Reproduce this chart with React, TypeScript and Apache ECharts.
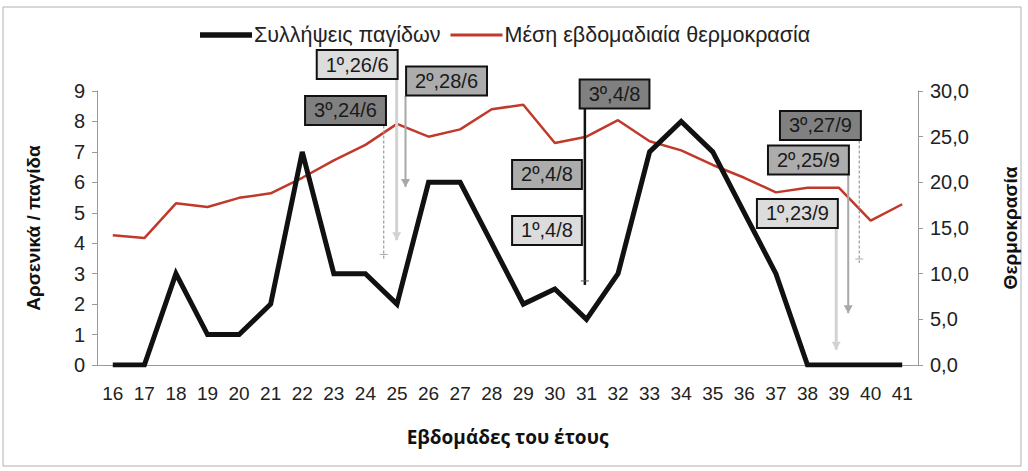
import React, { useEffect, useRef } from "react";
import * as echarts from "echarts";

const weeks = ["16","17","18","19","20","21","22","23","24","25","26","27","28","29","30","31","32","33","34","35","36","37","38","39","40","41"];
const catches = [0, 0, 3, 1, 1, 2, 7, 3, 3, 2, 6, 6, 4, 2, 2.5, 1.5, 3, 7, 8, 7, 5, 3, 0, 0, 0, 0];
const temperature = [14.2, 13.9, 17.7, 17.3, 18.3, 18.8, 20.5, 22.4, 24.1, 26.4, 25.0, 25.8, 28.0, 28.5, 24.3, 25.0, 26.8, 24.5, 23.5, 21.9, 20.5, 18.9, 19.4, 19.4, 15.8, 17.6];

const leftTicks = [0, 9, 1];
const rightTicks = [0, 30, 5];

// annotations (week position, left-axis value)
const annLabels = ["1º,26/6", "2º,28/6", "3º,24/6", "3º,4/8", "2º,4/8", "1º,4/8", "3º,27/9", "2º,25/9", "1º,23/9"];
const annRank = [1, 2, 3, 3, 2, 1, 3, 2, 1];
const annBoxWeek = [23.74, 26.57, 23.37, 31.89, 29.75, 29.75, 38.41, 38.03, 37.68];
const annBoxValue = [9.87, 9.33, 8.36, 8.9, 6.26, 4.42, 7.87, 6.73, 4.98];
const annArrowWeek = [24.99, 25.27, 24.58, 30.95, null, null, 39.64, 39.29, 38.91];
const annArrowEnd = [4.1, 5.85, 3.5, 2.63, null, null, 3.35, 1.7, 0.5];

const rankFill: Record<number, string> = { 1: "#dcdcdc", 2: "#acacac", 3: "#808080" };

export default function App() {
  const ref = useRef<HTMLDivElement>(null);
  useEffect(() => {
    if (!ref.current) return;
    const chart = echarts.init(ref.current, null, { renderer: "svg" });
    const font = "Liberation Sans, Arial, sans-serif";
    chart.setOption({
      animation: false,
      backgroundColor: "#ffffff",
      textStyle: { fontFamily: font },
      graphic: [
        {
          type: "rect",
          shape: { x: 3, y: 7, width: 1018, height: 459 },
          style: { fill: "none", stroke: "#b0b0b0", lineWidth: 1 },
          silent: true,
        },
      ],
      legend: {
        top: 19,
        left: 195,
        itemWidth: 52,
        itemHeight: 14,
        itemGap: 10,
        symbolKeepAspect: true,
        data: [
          { name: "Συλλήψεις παγίδων", icon: "path://M0,0H52V5.5H0Z" },
          { name: "Μέση εβδομαδιαία θερμοκρασία", icon: "path://M0,0H52V3H0Z" },
        ],
        textStyle: { fontSize: 21.5, color: "#222", fontFamily: font, padding: [0, 0, 0, -3] },
      },
      grid: { left: 97, right: 108, top: 91, bottom: 106, containLabel: false },
      xAxis: {
        type: "category",
        data: weeks,
        boundaryGap: true,
        name: "Εβδομάδες του έτους",
        nameLocation: "middle",
        nameGap: 62,
        nameTextStyle: { fontSize: 19, fontWeight: "bold", color: "#111", fontFamily: "Open Sans, sans-serif" },
        axisLine: { lineStyle: { color: "#9a9a9a", width: 1 } },
        axisTick: { length: 5, lineStyle: { color: "#9a9a9a" } },
        axisLabel: { fontSize: 19, color: "#222", margin: 19, interval: 0 },
      },
      yAxis: [
        {
          type: "value",
          min: leftTicks[0],
          max: leftTicks[1],
          interval: leftTicks[2],
          name: "Αρσενικά / παγίδα",
          nameLocation: "middle",
          nameGap: 54,
          nameRotate: 90,
          nameTextStyle: { fontSize: 19, fontWeight: "bold", color: "#111" },
          axisLine: { show: true, lineStyle: { color: "#9a9a9a" } },
          axisTick: { show: true, length: 5, lineStyle: { color: "#9a9a9a" } },
          axisLabel: { fontSize: 20, color: "#222", margin: 12 },
          splitLine: { show: false },
        },
        {
          type: "value",
          min: rightTicks[0],
          max: rightTicks[1],
          interval: rightTicks[2],
          position: "right",
          name: "Θερμοκρασία",
          nameLocation: "middle",
          nameGap: 83,
          nameRotate: 90,
          nameTextStyle: { fontSize: 19, fontWeight: "bold", color: "#111" },
          axisLine: { show: true, lineStyle: { color: "#9a9a9a" } },
          axisTick: { show: true, length: 5, lineStyle: { color: "#9a9a9a" } },
          axisLabel: {
            fontSize: 20,
            color: "#222",
            margin: 12,
            formatter: (v: number) => v.toFixed(1).replace(".", ","),
          },
          splitLine: { show: false },
        },
      ],
      series: [
        {
          name: "Συλλήψεις παγίδων",
          type: "line",
          data: catches,
          yAxisIndex: 0,
          symbol: "none",
          lineStyle: { color: "#111", width: 5, join: "miter" },
          itemStyle: { color: "#111" },
          z: 3,
        },
        {
          name: "Μέση εβδομαδιαία θερμοκρασία",
          type: "line",
          data: temperature,
          yAxisIndex: 1,
          symbol: "none",
          lineStyle: { color: "#c0392b", width: 2.5 },
          itemStyle: { color: "#c0392b" },
          z: 2,
        },
        {
          type: "custom",
          name: "annotations",
          xAxisIndex: 0,
          yAxisIndex: 0,
          clip: false,
          silent: true,
          z: 5,
          data: annLabels.map((_, i) => [i, 0]),
          renderItem: (params: any, api: any) => {
            const i = params.dataIndex;
            const band = api.size([1, 0])[0];
            const pt = (w: number, v: number) => {
              const b = Math.floor(w);
              const p = api.coord([weeks.indexOf(String(b)), v]);
              return [p[0] + (w - b) * band, p[1]];
            };
            const c = pt(annBoxWeek[i], annBoxValue[i]);
            const rank = annRank[i];
            const children: any[] = [];
            const aw = annArrowWeek[i];
            const ae = annArrowEnd[i];
            if (aw != null && ae != null) {
              const end = pt(aw, ae);
              const x = end[0];
              const y1 = c[1] + 15;
              const y2 = end[1];
              const isBlack = annLabels[i].indexOf("4/8") >= 0;
              let stroke = "#d2d2d2";
              let lw = 3;
              let dash: any = null;
              if (rank === 2) { stroke = "#a8a8a8"; lw = 2; }
              if (rank === 3) { stroke = isBlack ? "#111" : "#9a9a9a"; lw = isBlack ? 2.5 : 1.2; dash = isBlack ? null : [3, 2]; }
              children.push({
                type: "line",
                shape: { x1: x, y1, x2: x, y2 },
                style: { stroke, lineWidth: lw, lineDash: dash },
              });
              if (rank === 3) {
                children.push({
                  type: "line",
                  shape: { x1: x - 4, y1: y2 - 4, x2: x + 4, y2: y2 - 4 },
                  style: { stroke: isBlack ? "#555" : "#aaa", lineWidth: 1 },
                });
              } else {
                children.push({
                  type: "polygon",
                  shape: { points: [[x - 4.5, y2 - 8], [x + 4.5, y2 - 8], [x, y2]] },
                  style: { fill: stroke },
                });
              }
            }
            children.push({
              type: "text",
              x: c[0],
              y: c[1],
              style: {
                text: annLabels[i],
                align: "center",
                verticalAlign: "middle",
                fontSize: 20,
                fontFamily: font,
                fill: "#1a1a1a",
                backgroundColor: rankFill[rank],
                borderColor: "#111",
                borderWidth: 2,
                padding: [4, 8, 3, 8],
              },
            });
            return { type: "group", children };
          },
        },
      ],
    });
    return () => chart.dispose();
  }, []);
  return (
    <div
      ref={ref}
      style={{ position: "fixed", left: 0, top: 0, width: 1028, height: 471, background: "#fff" }}
    />
  );
}
